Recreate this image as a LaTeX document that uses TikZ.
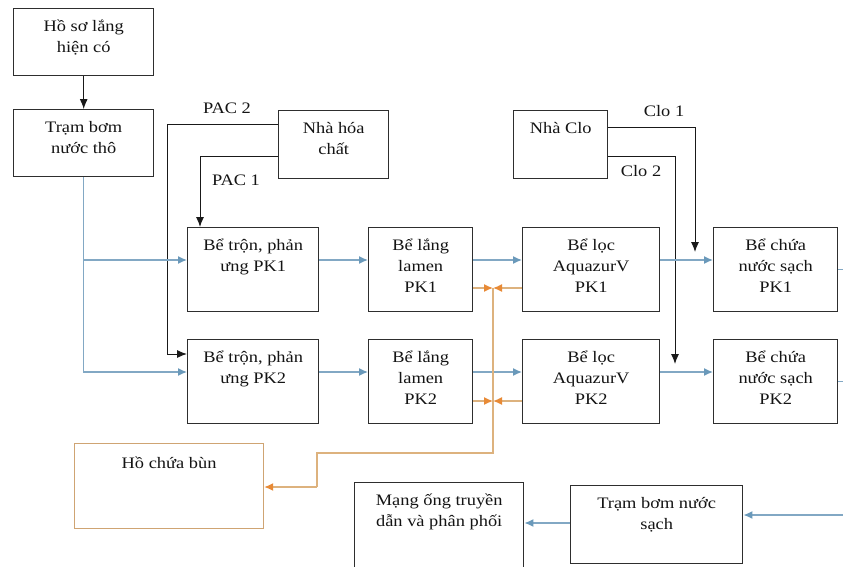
\documentclass[tikz,border=0pt]{standalone}
\usepackage{fontspec}
\setmainfont[FakeStretch=1.15]{Liberation Serif}
\usetikzlibrary{arrows.meta}
\definecolor{boxc}{HTML}{2E2E2E}
\definecolor{bluec}{HTML}{82A8C4}
\definecolor{bluetip}{HTML}{6A99BA}
\definecolor{tanc}{HTML}{DDB27E}
\definecolor{orangec}{HTML}{E88A36}
\definecolor{bunc}{HTML}{CFA473}
\newcommand{\toprl}{\rule{0pt}{16pt}}
\begin{document}
\begin{tikzpicture}[x=1pt,y=-1pt,
  box/.style={draw=boxc, line width=1.4pt, anchor=north west, inner sep=0pt},
  txt/.style={font=\fontsize{16}{21}\selectfont, align=center, anchor=north, inner sep=0pt, text=black!92},
  lbl/.style={font=\fontsize{16}{21}\selectfont, inner sep=0pt, text=black!92},
  blk/.style={draw=black!90, line width=1pt, -{Latex[length=10pt,width=8pt]}},
  bln/.style={draw=bluec, line width=1.4pt},
  bla/.style={bln, -{Latex[length=9pt,width=8pt,color=bluetip]}},
  orl/.style={draw=tanc, line width=1.4pt},
  ora/.style={orl, -{Latex[length=9pt,width=8pt,color=orangec]}},
]
\useasboundingbox (0,0) rectangle (843,566);
\clip (0,0) rectangle (843,566);
\fill[white] (0,0) rectangle (843,566);

% boxes
\node[box, minimum width=140pt, minimum height=67pt] (hoso) at (13,8) {};
\node[box, minimum width=140pt, minimum height=67pt] (tramtho) at (13,109) {};
\node[box, minimum width=110pt, minimum height=68pt] (hoachat) at (278,110) {};
\node[box, minimum width=94pt, minimum height=68pt] (clo) at (513,110) {};
\node[box, minimum width=131pt, minimum height=84pt] (tron1) at (187,227) {};
\node[box, minimum width=131pt, minimum height=84pt] (tron2) at (187,339) {};
\node[box, minimum width=104pt, minimum height=84pt] (lang1) at (368,227) {};
\node[box, minimum width=104pt, minimum height=84pt] (lang2) at (368,339) {};
\node[box, minimum width=137pt, minimum height=84pt] (loc1) at (522,227) {};
\node[box, minimum width=137pt, minimum height=84pt] (loc2) at (522,339) {};
\node[box, minimum width=124pt, minimum height=84pt] (chua1) at (713,227) {};
\node[box, minimum width=124pt, minimum height=84pt] (chua2) at (713,339) {};
\node[box, draw=bunc, line width=1.2pt, minimum width=189pt, minimum height=85pt] (bun) at (74,443) {};
\node[box, minimum width=169pt, minimum height=95pt] (mang) at (354,482) {};
\node[box, minimum width=172pt, minimum height=78pt] (sach) at (570,485) {};

% texts
\node[txt] (thoso) at ([yshift=-7pt]hoso.north) {\toprl Hồ sơ lắng\\hiện có};
\node[txt] (ttramtho) at ([yshift=-7pt]tramtho.north) {\toprl Trạm bơm\\nước thô};
\node[txt] (thoachat) at ([yshift=-7pt]hoachat.north) {\toprl Nhà hóa\\chất};
\node[txt] (tclo) at ([yshift=-7pt]clo.north) {\toprl Nhà Clo};
\node[txt] (ttron1) at ([yshift=-7pt]tron1.north) {\toprl Bể trộn, phản\\ưng PK1};
\node[txt] (ttron2) at ([yshift=-7pt]tron2.north) {\toprl Bể trộn, phản\\ưng PK2};
\node[txt] (tlang1) at ([yshift=-7pt]lang1.north) {\toprl Bể lắng\\lamen\\PK1};
\node[txt] (tlang2) at ([yshift=-7pt]lang2.north) {\toprl Bể lắng\\lamen\\PK2};
\node[txt] (tloc1) at ([yshift=-7pt]loc1.north) {\toprl Bể lọc\\AquazurV\\PK1};
\node[txt] (tloc2) at ([yshift=-7pt]loc2.north) {\toprl Bể lọc\\AquazurV\\PK2};
\node[txt] (tchua1) at ([yshift=-7pt]chua1.north) {\toprl Bể chứa\\nước sạch\\PK1};
\node[txt] (tchua2) at ([yshift=-7pt]chua2.north) {\toprl Bể chứa\\nước sạch\\PK2};
\node[txt] (tbun) at ([yshift=-9pt]bun.north) {\toprl Hồ chứa bùn};
\node[txt] (tmang) at ([yshift=-7pt]mang.north) {\toprl Mạng ống truyền\\dẫn và phân phối};
\node[txt] (tsach) at ([yshift=-7pt]sach.north) {\toprl Trạm bơm nước\\sạch};

% labels
\node[lbl] (pac2) at (227,108) {PAC 2};
\node[lbl] (pac1) at (236,180) {PAC 1};
\node[lbl] (clo1) at (664,111) {Clo 1};
\node[lbl] (clo2) at (641,171) {Clo 2};

% helper coordinates
\coordinate (r1) at (0,260);
\coordinate (r2) at (0,372);
\coordinate (o1) at (0,288);
\coordinate (o2) at (0,401);
\coordinate (pac2y) at (0,124);
\coordinate (pac1y) at (0,156);
\coordinate (pac2x) at (167,124);
\coordinate (pac2in) at (0,354);
\coordinate (pac1x) at (200,156);
\coordinate (clo1y) at (0,127);
\coordinate (clo2y) at (0,156);
\coordinate (clo1x) at (695,127);
\coordinate (clo2x) at (675,156);
\coordinate (clo1end) at (695,252);
\coordinate (clo2end) at (675,364);
\coordinate (oj1) at (493,288);
\coordinate (oj2) at (493,401);
\coordinate (ob) at (493,453);
\coordinate (oc) at (317,453);
\coordinate (od) at (317,487);
\coordinate (edge) at (843,0);
\coordinate (inlet) at (843,515);
\coordinate (sachy) at (0,523);

% black connectors
\draw[blk] (hoso.south) -- (tramtho.north);
\draw[blk] (hoachat.west |- pac2y) -- (pac2x) |- (tron2.west |- pac2in);
\draw[blk] (hoachat.west |- pac1y) -- (pac1x) -- (pac1x |- tron1.north);
\draw[blk] (clo.east |- clo1y) -- (clo1x) -- (clo1end);
\draw[blk] (clo.east |- clo2y) -- (clo2x) -- (clo2end);

% blue connectors
\draw[bla] (tramtho.south) |- (tron2.west |- r2);
\draw[bla] (tramtho.south |- r1) -- (tron1.west |- r1);
\draw[bla] (tron1.east |- r1) -- (lang1.west |- r1);
\draw[bla] (lang1.east |- r1) -- (loc1.west |- r1);
\draw[bla] (loc1.east |- r1) -- (chua1.west |- r1);
\draw[bla] (tron2.east |- r2) -- (lang2.west |- r2);
\draw[bla] (lang2.east |- r2) -- (loc2.west |- r2);
\draw[bla] (loc2.east |- r2) -- (chua2.west |- r2);
\draw[bln] (chua1.east) -- (chua1.east -| edge);
\draw[bln] (chua2.east) -- (chua2.east -| edge);
\draw[bla] (inlet) -- (sach.east |- inlet);
\draw[bla] (sach.west |- sachy) -- (mang.east |- sachy);

% orange sludge connectors
\draw[orl] (oj1) -- (ob) -- (oc) -- (od);
\draw[ora] (od) -- (bun.east |- od);
\draw[ora] (lang1.east |- o1) -- (oj1);
\draw[ora] (loc1.west |- o1) -- (oj1);
\draw[ora] (lang2.east |- o2) -- (oj2);
\draw[ora] (loc2.west |- o2) -- (oj2);
\end{tikzpicture}
\end{document}
